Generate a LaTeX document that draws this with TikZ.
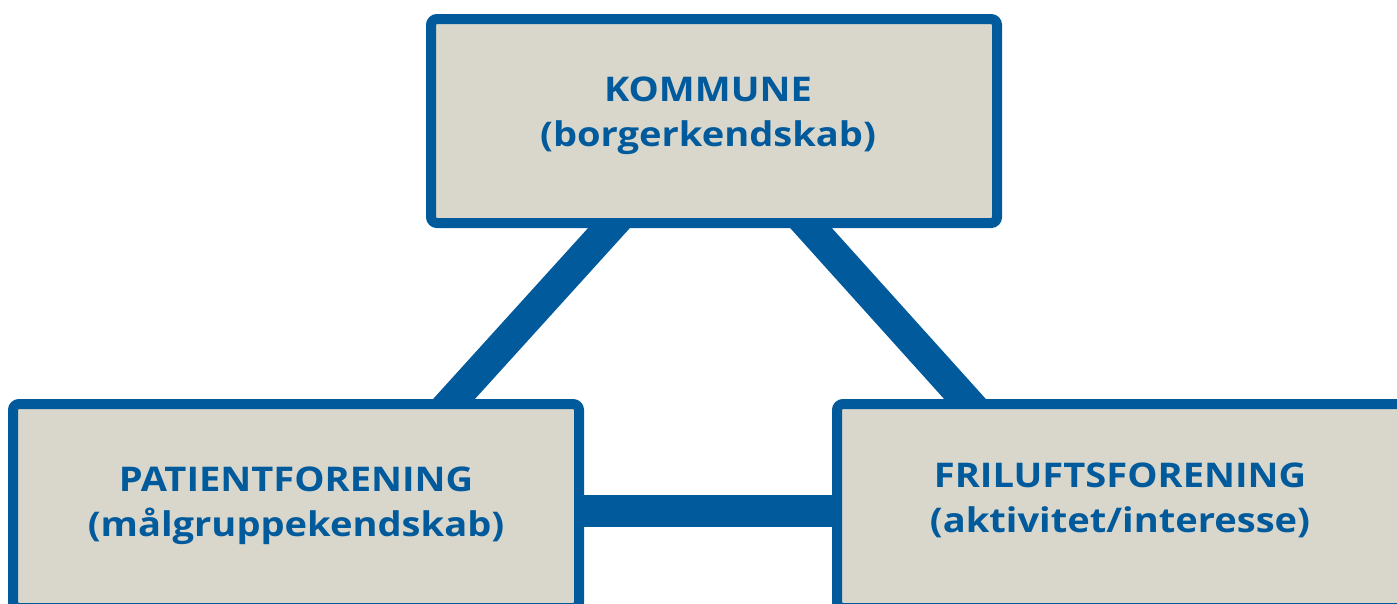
\documentclass[tikz,border=0pt]{standalone}
\usepackage{fontspec}
\setmainfont{Open Sans}[FakeStretch=1.12]
\usetikzlibrary{calc,backgrounds}
\definecolor{dkblue}{RGB}{0,90,155}
\definecolor{boxfill}{RGB}{217,215,204}
\tikzset{
  orgbox/.style={draw=dkblue, fill=boxfill, line width=10pt, rounded corners=6pt,
    minimum width=566pt, minimum height=204pt, inner sep=0pt},
  orgtext/.style={text=dkblue, font=\bfseries\fontsize{34}{45}\selectfont, align=center, inner sep=0pt},
  link/.style={dkblue, line width=31pt, line cap=butt},
}
\begin{document}
\begin{tikzpicture}[x=1pt,y=-1pt]
\useasboundingbox (0,0) rectangle (1397,603);
\node[orgbox] (top) at (714,121) {};
\node[orgbox] (left) at (296,506) {};
\node[orgbox] (right) at (1120,506) {};
\node[orgtext] (ttop) at (708,116) {KOMMUNE\\(borgerkendskab)};
\node[orgtext] (tleft) at (296,506) {PATIENTFORENING\\(målgruppekendskab)};
\node[orgtext] (tright) at (1120,500) {FRILUFTSFORENING\\(aktivitet/interesse)};
\begin{scope}[on background layer]
\draw[link, shorten <=-25pt, shorten >=-25pt] ($(top.south)+(-105,0)$) -- ($(left.north)+(158,0)$);
\draw[link, shorten <=-25pt, shorten >=-25pt] ($(top.south)+(97,0)$) -- ($(right.north)+(-155,0)$);
\draw[link, line width=32pt, shorten <=-10pt, shorten >=-10pt] ($(left.east)+(0,5)$) -- ($(right.west)+(0,5)$);
\end{scope}
\end{tikzpicture}
\end{document}
